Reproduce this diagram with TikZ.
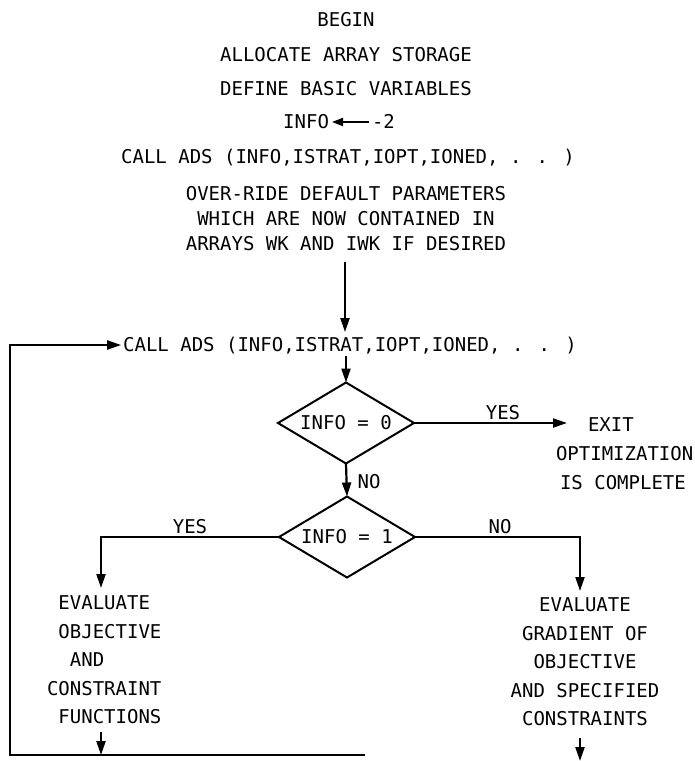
\documentclass[tikz,border=0pt]{standalone}
\usepackage{fontspec}
\setmainfont{DejaVu Sans Mono}
\usetikzlibrary{shapes.geometric,arrows.meta}
\begin{document}
\begin{tikzpicture}[x=1pt,y=-1pt,
  every node/.style={inner sep=0pt,outer sep=0pt,font=\fontsize{19}{28.5}\selectfont},
  txt/.style={text height=13.85pt,text depth=0pt},
  line/.style={line width=2.2pt},
  arr/.style={line width=2.2pt,-{Triangle[length=14pt,width=9pt]}},
  arrsmall/.style={line width=1.8pt,-{Triangle[length=11pt,width=8pt]}},
  dia/.style={draw,diamond,aspect=3,line width=2pt,minimum width=136pt,minimum height=81pt,
    text height=13.85pt,text depth=0pt,inner sep=0pt}]
\fill[white] (0,0) rectangle (695,761);
\useasboundingbox (0,0) rectangle (695,761);

\node[txt] (begin) at (346,20) {BEGIN};
\node[txt] (alloc) at (346,55) {ALLOCATE ARRAY STORAGE};
\node[txt] (define) at (346,89) {DEFINE BASIC VARIABLES};
\node[txt,anchor=east] (info) at (329,122) {INFO};
\node[txt,anchor=west] (mtwo) at (372,122) {-2};
\draw[arrsmall,shorten <=3pt,shorten >=3pt] (mtwo.west) -- (info.east);
\node[txt] (call1) at (348,157) {CALL ADS (INFO,ISTRAT,IOPT,IONED, . . )};
\node[anchor=north,align=center,font=\fontsize{19}{25}\selectfont] (over) at (346,186)
  {OVER-RIDE DEFAULT PARAMETERS\\WHICH ARE NOW CONTAINED IN\\ARRAYS WK AND IWK IF DESIRED};
\node[txt] (call2) at (350,345) {CALL ADS (INFO,ISTRAT,IOPT,IONED, . . )};
\coordinate (colx) at (345,0);
\draw[arr,shorten <=12pt,shorten >=6pt] (over.south -| colx) -- (call2.north -| colx);

\node[dia] (d1) at (346,423) {INFO = 0};
\draw[arr,shorten <=4pt] (call2.south -| d1.north) -- (d1.north);
\coordinate (exittip) at (567,423);
\draw[arr] (d1.east) -- (exittip);
\node[txt,anchor=south] (yes1) at (503,419) {YES};
\node[txt,anchor=west] (exit) at (588,425) {EXIT};
\node[txt,anchor=west] (optim) at (556,454) {OPTIMIZATION};
\node[txt,anchor=west] (iscomp) at (560,483) {IS COMPLETE};

\node[dia] (d2) at (347,537) {INFO = 1};
\draw[arr] (d1.south) -- (d2.north);
\node[txt] (no1) at (369,482) {NO};

\coordinate (leftdown) at (101,588);
\coordinate (rightdown) at (580,591);
\draw[arr] (d2.west) -| (leftdown);
\draw[arr] (d2.east) -| (rightdown);
\node[txt,anchor=south] (yes2) at (190,533) {YES};
\node[txt,anchor=south] (no2) at (500,533) {NO};

\node[anchor=north west,align=left] (evalL) at (47,596)
  {\hphantom{X}EVALUATE\\\hphantom{X}OBJECTIVE\\\hphantom{XX}AND\\CONSTRAINT\\\hphantom{X}FUNCTIONS};
\node[anchor=north,align=center] (evalR) at (585,598)
  {EVALUATE\\GRADIENT OF\\OBJECTIVE\\AND SPECIFIED\\CONSTRAINTS};

\coordinate (lbot) at (101,755);
\coordinate (rbot) at (580,761);
\draw[arr,shorten <=8pt] (evalL.south -| lbot) -- (lbot);
\draw[arr,shorten <=12pt] (evalR.south -| rbot) -- (rbot);

\coordinate (loopr) at (365,755);
\coordinate (loopl) at (10,755);
\draw[arr,shorten >=2pt] (loopr) -- (loopl) |- (call2.west);
\end{tikzpicture}
\end{document}
